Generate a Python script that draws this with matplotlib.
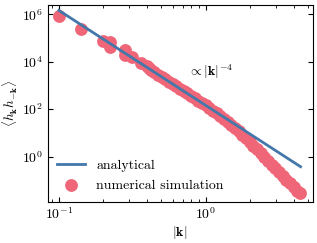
import matplotlib
matplotlib.use("Agg")
import matplotlib.pyplot as plt
import numpy as np
from matplotlib.ticker import NullLocator

BLUE, RED = "#4477AA", "#EE6677"

# analytical curve: A * |k|^-4 over the simulated k range
A_COEF = 145.0
K_LINE = [0.1, 4.44]

# numerical simulation
K_SIM = [0.1, 0.141, 0.2, 0.224, 0.224, 0.283, 0.283, 0.316, 0.361, 0.4,
         0.412, 0.424,
         0.447, 0.473, 0.501, 0.531, 0.562, 0.596, 0.631, 0.668, 0.708, 0.750,
         0.794, 0.841, 0.891, 0.944, 1.0, 1.059, 1.122, 1.189, 1.259, 1.334,
         1.413, 1.496, 1.585, 1.679, 1.778, 1.884, 1.995, 2.113, 2.239, 2.371,
         2.512, 2.661, 2.818, 2.985, 3.162, 3.350, 3.548, 3.758, 3.981, 4.217,
         4.40]
H_SIM = [8.5e5, 2.3e5, 7.4e4, 6.9e4, 4.3e4, 3.1e4, 2.0e4, 1.6e4, 8.5e3, 6.3e3,
         5.4e3, 4.5e3,
         3.63e3, 2.88e3, 2.29e3, 1.82e3, 1.45e3, 1.15e3, 912, 724, 575, 457,
         363, 288, 229, 182, 145, 112, 87, 68, 51, 39,
         29.5, 22.4, 16.6, 12.0, 8.5, 6.0, 4.2, 2.9, 2.0, 1.38,
         0.95, 0.66, 0.46, 0.32, 0.22, 0.15, 0.105, 0.074, 0.052, 0.037,
         0.029]

plt.rcParams.update({
    "font.family": "cmr10", "mathtext.fontset": "cm",
    "axes.formatter.use_mathtext": True, "font.size": 10,
    "xtick.direction": "in", "ytick.direction": "in",
    "xtick.top": True, "ytick.right": True,
})

fig = plt.figure(figsize=(3.17, 2.43), dpi=100)
ax = fig.add_axes([0.150, 0.170, 0.836, 0.811])

k_line = np.array(K_LINE)
ax.plot(k_line, A_COEF * k_line ** -4, color=BLUE, lw=2.0, zorder=3,
        label="analytical")
ax.scatter(K_SIM, H_SIM, s=85, color=RED, lw=0, zorder=2,
           label="numerical simulation")

ax.set_xscale("log")
ax.set_yscale("log")
ax.set_xlim(0.0837, 5.36)
ax.set_ylim(10 ** -1.903, 10 ** 6.406)
ax.set_yticks([1, 1e2, 1e4, 1e6])
ax.yaxis.set_minor_locator(NullLocator())

ax.text(0.757, 3.9e3, r"$\propto|\mathbf{k}|^{-4}$", ha="left", va="center",
        fontsize=10)
ax.set_xlabel(r"$|\mathbf{k}|$", labelpad=1)
ax.set_ylabel(r"$\langle h_{\mathbf{k}}h_{-\mathbf{k}}\rangle$", fontsize=9.5)
ax.yaxis.set_label_coords(-0.105, 0.5)
ax.legend(loc="lower left", frameon=False, fontsize=10, handlelength=2.0,
          borderaxespad=0.3)

fig.savefig("out.png", dpi=100)
